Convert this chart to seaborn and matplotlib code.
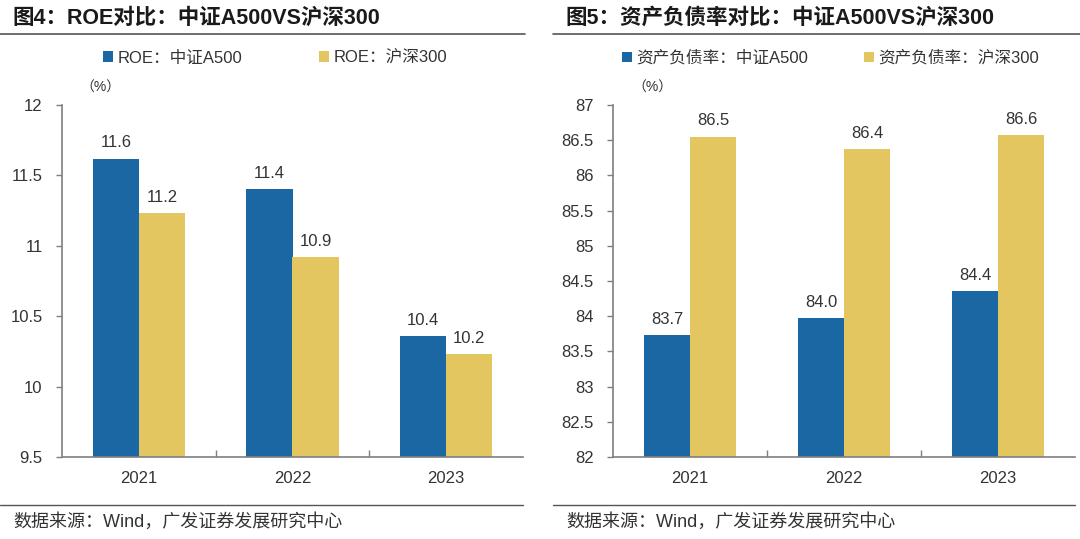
import matplotlib
matplotlib.use("Agg")
import matplotlib.pyplot as plt
import matplotlib.ticker as mticker
from matplotlib.lines import Line2D
import seaborn as sns
import pandas as pd

sns.set_style("white")
plt.rcParams['font.family'] = ['Liberation Sans', 'Noto Sans CJK SC', 'DejaVu Sans']

years = ['2021', '2022', '2023']

roe_a500 = [11.62, 11.40, 10.36]
roe_hs300 = [11.23, 10.92, 10.23]
roe_names = ['ROE：中证A500', 'ROE：沪深300']

debt_a500 = [83.73, 83.97, 84.36]
debt_hs300 = [86.55, 86.37, 86.57]
debt_names = ['资产负债率：中证A500', '资产负债率：沪深300']

titles = ['图4：ROE对比：中证A500VS沪深300', '图5：资产负债率对比：中证A500VS沪深300']
source = '数据来源：Wind，广发证券发展研究中心'

BLUE = '#1b67a3'
YELLOW = '#e4c661'
GREY = '#7f7f7f'
TXT = '#333333'


def long_df(a, b, names):
    return pd.DataFrame({
        'year': years * 2,
        'series': [names[0]] * 3 + [names[1]] * 3,
        'value': a + b,
    })


fig = plt.figure(figsize=(10.8, 5.39), dpi=100)

panels = [
    dict(df=long_df(roe_a500, roe_hs300, roe_names), names=roe_names,
         rect=[62 / 1080, 1 - 457 / 539, 461 / 1080, 352 / 539],
         ylim=(9.5, 12), x0=0, legx=96, pct=80, colsp=4.6),
    dict(df=long_df(debt_a500, debt_hs300, debt_names), names=debt_names,
         rect=[613 / 1080, 1 - 457 / 539, 462 / 1080, 352 / 539],
         ylim=(82, 87), x0=553, legx=615, pct=632, colsp=3.3),
]

for i, p in enumerate(panels):
    ax = fig.add_axes(p['rect'])
    sns.barplot(data=p['df'], x='year', y='value', hue='series',
                palette=[BLUE, YELLOW], width=0.6, gap=0, linewidth=0,
                saturation=1, ax=ax)
    ax.set_ylim(*p['ylim'])
    ax.set_xlim(-0.5, 2.5)
    ax.yaxis.set_major_locator(mticker.MultipleLocator(0.5))
    ax.yaxis.set_major_formatter(mticker.FuncFormatter(lambda v, _: f'{v:g}'))
    ax.set_xlabel('')
    ax.set_ylabel('')
    for s in ['top', 'right']:
        ax.spines[s].set_visible(False)
    for s in ['left', 'bottom']:
        ax.spines[s].set_color(GREY)
        ax.spines[s].set_linewidth(1.2)
    ax.tick_params(axis='y', direction='out', length=4, color=GREY, width=1,
                   labelsize=12, labelcolor=TXT, pad=10, left=True)
    ax.tick_params(axis='x', which='major', length=0, labelsize=12,
                   labelcolor=TXT, pad=10)
    ax.xaxis.set_minor_locator(mticker.FixedLocator([0.5, 1.5]))
    ax.tick_params(axis='x', which='minor', direction='in', length=5,
                   color=GREY, width=1, bottom=True)
    for c in ax.containers:
        ax.bar_label(c, fmt='%.1f', padding=6, fontsize=12, color=TXT)

    ax.legend(loc='center left', bbox_to_anchor=(p['legx'] / 1080, 1 - 58 / 539),
              bbox_transform=fig.transFigure, ncol=2, frameon=False,
              fontsize=12, handlelength=0.6, handleheight=0.6,
              handletextpad=0.3, columnspacing=p['colsp'], borderaxespad=0,
              labelcolor=TXT)
    fig.text(p['pct'] / 1080, 1 - 88 / 539, '（%）', fontsize=10,
             color=TXT, ha='left', va='center')

    x0 = p['x0']
    fig.text((x0 + 12) / 1080, 1 - 18 / 539, titles[i], fontsize=15.5,
             fontweight='bold', color='#1a1a1a', va='center', ha='left')
    fig.add_artist(Line2D([x0 / 1080, (x0 + 525) / 1080 if i == 0 else 1.0],
                          [1 - 34 / 539] * 2, color='#555555', lw=1.2,
                          transform=fig.transFigure))
    fig.add_artist(Line2D([x0 / 1080, (x0 + 523) / 1080 if i == 0 else 1075 / 1080],
                          [1 - 505 / 539] * 2, color='#555555', lw=1.0,
                          transform=fig.transFigure))
    fig.text((x0 + 13) / 1080, 1 - 522 / 539, source, fontsize=13,
             color=TXT, va='center', ha='left')

fig.savefig('out.png', dpi=100)
